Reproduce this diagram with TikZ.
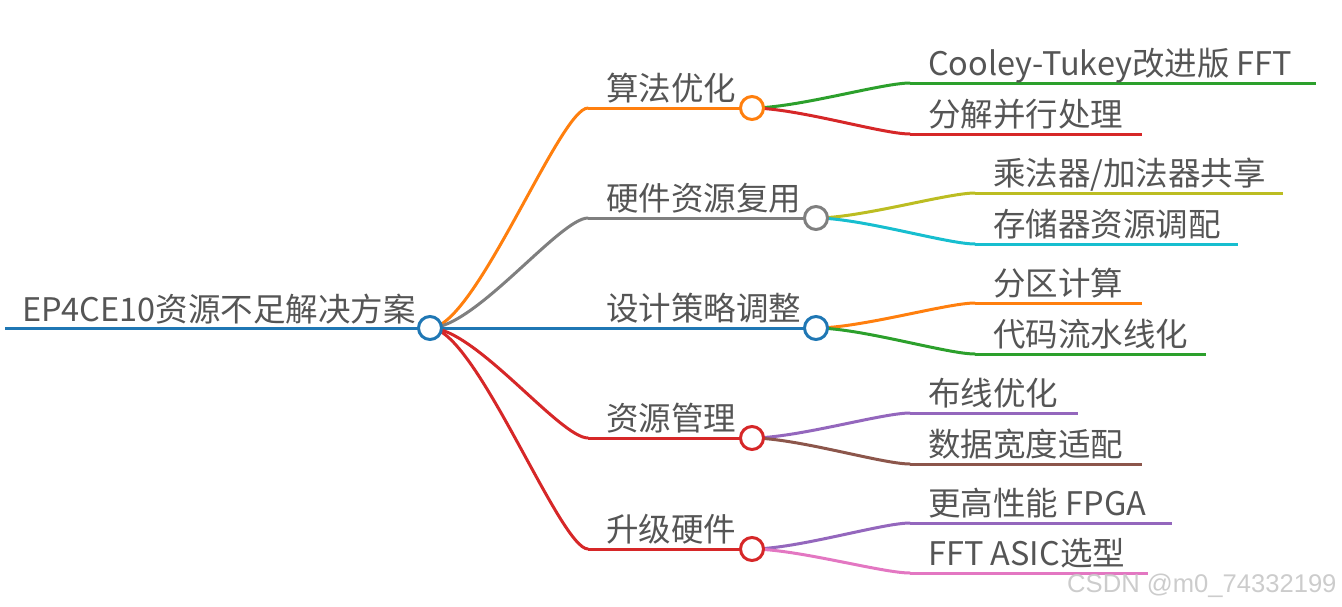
\documentclass[tikz,border=0pt]{standalone}
\usepackage{fontspec}
\setmainfont{Noto Sans CJK SC}
\newfontfamily\wmfont{Liberation Sans}
\definecolor{cblue}{HTML}{1F77B4}
\definecolor{corange}{HTML}{FF7F0E}
\definecolor{cgreen}{HTML}{2CA02C}
\definecolor{cred}{HTML}{D62728}
\definecolor{cpurple}{HTML}{9467BD}
\definecolor{cbrown}{HTML}{8C564B}
\definecolor{cpink}{HTML}{E377C2}
\definecolor{cgray}{HTML}{7F7F7F}
\definecolor{colive}{HTML}{BCBD22}
\definecolor{ccyan}{HTML}{17BECF}
\definecolor{txtgray}{HTML}{555555}
\definecolor{wmgray}{HTML}{CCCCCC}
\begin{document}
\begin{tikzpicture}[x=1pt,y=-1pt,
  circ/.style={circle, draw, fill=white, minimum size=23pt, inner sep=0pt, line width=3pt},
  lbl/.style={anchor=base west, inner sep=0pt, text=txtgray, font=\fontsize{32.5}{36}\selectfont},
  link/.style={line width=3pt},
  curv/.style={link, line cap=round}]
\useasboundingbox (0,0) rectangle (1342,606);

% root
\coordinate (r0) at (5,328);
\node[lbl] (troot) at (22,321) {EP4CE10资源不足解决方案};

% level-1 line starts
\coordinate (s1) at (588,108);
\coordinate (s2) at (588,218);
\coordinate (s3) at (588,328);
\coordinate (s4) at (588,438);
\coordinate (s5) at (588,549);

% level-1 circle positions
\coordinate (p1) at (752,108);
\coordinate (p2) at (816,218);
\coordinate (p3) at (816,328);
\coordinate (p4) at (752,438);
\coordinate (p5) at (752,549);
\coordinate (p0) at (430,328);

% leaf line starts / ends
\coordinate (a1) at (910,83);   \coordinate (a1e) at (1316,83);
\coordinate (b1) at (910,134);  \coordinate (b1e) at (1142,134);
\coordinate (a2) at (975,193);  \coordinate (a2e) at (1283,193);
\coordinate (b2) at (975,244);  \coordinate (b2e) at (1238,244);
\coordinate (a3) at (975,303);  \coordinate (a3e) at (1142,303);
\coordinate (b3) at (975,354);  \coordinate (b3e) at (1206,354);
\coordinate (a4) at (910,413);  \coordinate (a4e) at (1078,413);
\coordinate (b4) at (910,464);  \coordinate (b4e) at (1142,464);
\coordinate (a5) at (910,523);  \coordinate (a5e) at (1172,523);
\coordinate (b5) at (910,573);  \coordinate (b5e) at (1148,573);

% root line
\draw[link,cblue] (r0) -- (p0);

% root -> level-1 curves
\draw[curv,corange] (p0) .. controls +(45,0) and +(-28,0) .. (s1);
\draw[curv,cgray]   (p0) .. controls +(45,0) and +(-28,0) .. (s2);
\draw[link,cblue]   (p0) -- (s3);
\draw[curv,cred]    (p0) .. controls +(45,0) and +(-28,0) .. (s4);
\draw[curv,cred]    (p0) .. controls +(45,0) and +(-28,0) .. (s5);

% level-1 horizontal lines
\draw[link,corange] (s1) -- (p1);
\draw[link,cgray]   (s2) -- (p2);
\draw[link,cblue]   (s3) -- (p3);
\draw[link,cred]    (s4) -- (p4);
\draw[link,cred]    (s5) -- (p5);

% level-1 -> leaves curves
\draw[curv,cgreen]  (p1) .. controls +(45,0) and +(-28,0) .. (a1);
\draw[curv,cred]    (p1) .. controls +(45,0) and +(-28,0) .. (b1);
\draw[curv,colive]  (p2) .. controls +(45,0) and +(-28,0) .. (a2);
\draw[curv,ccyan]   (p2) .. controls +(45,0) and +(-28,0) .. (b2);
\draw[curv,corange] (p3) .. controls +(45,0) and +(-28,0) .. (a3);
\draw[curv,cgreen]  (p3) .. controls +(45,0) and +(-28,0) .. (b3);
\draw[curv,cpurple] (p4) .. controls +(45,0) and +(-28,0) .. (a4);
\draw[curv,cbrown]  (p4) .. controls +(45,0) and +(-28,0) .. (b4);
\draw[curv,cpurple] (p5) .. controls +(45,0) and +(-28,0) .. (a5);
\draw[curv,cpink]   (p5) .. controls +(45,0) and +(-28,0) .. (b5);

% leaf lines
\draw[link,cgreen]  (a1) -- (a1e);
\draw[link,cred]    (b1) -- (b1e);
\draw[link,colive]  (a2) -- (a2e);
\draw[link,ccyan]   (b2) -- (b2e);
\draw[link,corange] (a3) -- (a3e);
\draw[link,cgreen]  (b3) -- (b3e);
\draw[link,cpurple] (a4) -- (a4e);
\draw[link,cbrown]  (b4) -- (b4e);
\draw[link,cpurple] (a5) -- (a5e);
\draw[link,cpink]   (b5) -- (b5e);

% circles
\node[circ,draw=cblue]   (root) at (p0) {};
\node[circ,draw=corange] (c1) at (p1) {};
\node[circ,draw=cgray]   (c2) at (p2) {};
\node[circ,draw=cblue]   (c3) at (p3) {};
\node[circ,draw=cred]    (c4) at (p4) {};
\node[circ,draw=cred]    (c5) at (p5) {};

% level-1 labels
\node[lbl] (t1) at (606,100) {算法优化};
\node[lbl] (t2) at (606,210) {硬件资源复用};
\node[lbl] (t3) at (606,320) {设计策略调整};
\node[lbl] (t4) at (606,430) {资源管理};
\node[lbl] (t5) at (606,541) {升级硬件};

% leaf labels
\node[lbl] (l1a) at (928,75)  {Cooley-Tukey改进版 FFT};
\node[lbl] (l1b) at (928,126) {分解并行处理};
\node[lbl] (l2a) at (993,185) {乘法器/加法器共享};
\node[lbl] (l2b) at (993,236) {存储器资源调配};
\node[lbl] (l3a) at (993,295) {分区计算};
\node[lbl] (l3b) at (993,346) {代码流水线化};
\node[lbl] (l4a) at (928,405) {布线优化};
\node[lbl] (l4b) at (928,456) {数据宽度适配};
\node[lbl] (l5a) at (928,515) {更高性能 FPGA};
\node[lbl] (l5b) at (928,565) {FFT ASIC选型};

% watermark
\node[anchor=base west, inner sep=0pt, text=wmgray, font=\wmfont\fontsize{25.6}{28}\selectfont] (wm) at (1067,592) {CSDN @m0\_74332199};
\end{tikzpicture}
\end{document}
